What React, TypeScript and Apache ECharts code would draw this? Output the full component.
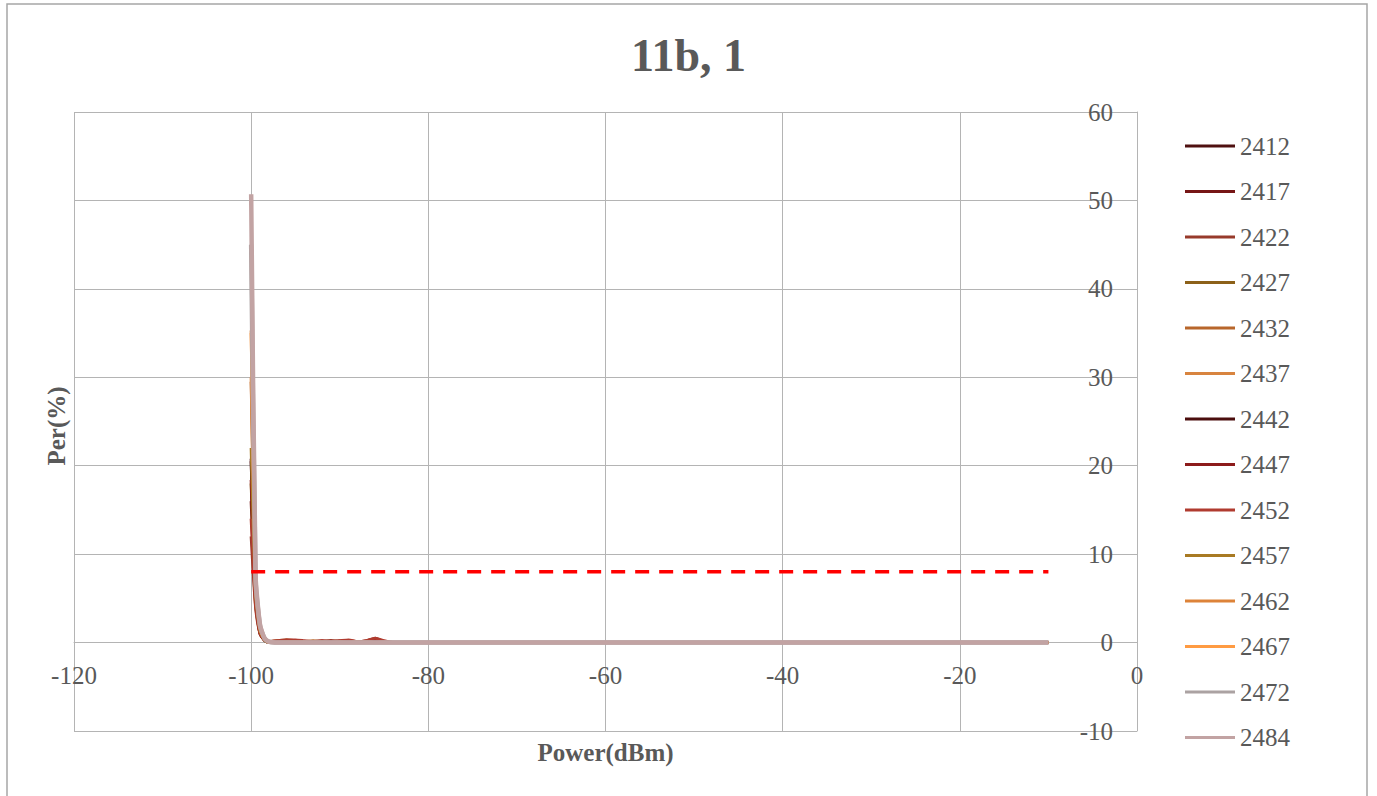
import React, { useEffect, useRef } from "react";
import * as echarts from "echarts";

const seriesNames = ["2412", "2417", "2422", "2427", "2432", "2437", "2442", "2447", "2452", "2457", "2462", "2467", "2472", "2484"];
const seriesColors = ["#4f1010", "#761616", "#973a2b", "#8c6119", "#b8662b", "#d8843f", "#4b0d0d", "#8c1b1b", "#b03b2f", "#a87a23", "#dd8339", "#ff9b42", "#aba2a2", "#c2a3a3"];

const powerX = [-100, -99.5, -99, -98.5, -98, -97, -96, -95, -94, -93, -92, -91, -90, -89, -88, -87, -86, -85, -84, -10];

const per2412 = [20.8, 5.5, 1.2, 0.3, 0, 0, 0.1, 0, 0.1, 0, 0.1, 0, 0, 0.1, 0, 0, 0, 0, 0, 0];
const per2417 = [16.0, 4.5, 1.0, 0.3, 0, 0.1, 0.2, 0.1, 0, 0.1, 0, 0.1, 0, 0, 0.1, 0, 0.1, 0, 0, 0];
const per2422 = [12.0, 4.0, 1.0, 0.3, 0.1, 0.2, 0.3, 0.2, 0.1, 0.1, 0.2, 0.1, 0.2, 0.1, 0.1, 0.2, 0.5, 0.1, 0, 0];
const per2427 = [18.0, 5.0, 1.2, 0.3, 0, 0, 0.1, 0, 0, 0.1, 0, 0, 0.1, 0, 0, 0, 0, 0, 0, 0];
const per2432 = [29.5, 6.0, 1.5, 0.4, 0.1, 0.2, 0.3, 0.2, 0.1, 0.2, 0.1, 0.2, 0.1, 0.2, 0.1, 0.1, 0.2, 0.1, 0, 0];
const per2437 = [35.3, 6.5, 1.7, 0.4, 0, 0, 0.1, 0, 0.1, 0, 0, 0.1, 0, 0, 0.1, 0, 0, 0, 0, 0];
const per2442 = [20.5, 5.5, 1.2, 0.3, 0, 0.1, 0, 0.1, 0, 0, 0.1, 0, 0, 0.1, 0, 0, 0, 0, 0, 0];
const per2447 = [18.4, 5.0, 1.1, 0.3, 0.1, 0.1, 0.2, 0.1, 0.1, 0, 0.1, 0.2, 0.1, 0, 0.1, 0.1, 0.3, 0.1, 0, 0];
const per2452 = [14.0, 4.2, 1.0, 0.3, 0.1, 0.2, 0.3, 0.3, 0.2, 0.1, 0.2, 0.1, 0.2, 0.3, 0.1, 0.2, 0.5, 0.2, 0, 0];
const per2457 = [22.0, 5.5, 1.3, 0.3, 0, 0, 0.1, 0, 0, 0, 0.1, 0, 0, 0, 0, 0, 0, 0, 0, 0];
const per2462 = [30.0, 6.0, 1.5, 0.4, 0.1, 0, 0.1, 0.1, 0, 0.1, 0, 0, 0.1, 0, 0, 0.1, 0, 0, 0, 0];
const per2467 = [35.0, 6.5, 1.7, 0.4, 0, 0, 0, 0, 0.1, 0, 0, 0, 0, 0, 0.1, 0, 0, 0, 0, 0];
const per2472 = [45.0, 7.0, 1.9, 0.5, 0.1, 0, 0, 0, 0, 0, 0, 0, 0, 0, 0, 0, 0, 0, 0, 0];
const per2484 = [50.7, 7.5, 2.0, 0.5, 0.1, 0, 0, 0, 0, 0, 0, 0, 0, 0, 0, 0, 0, 0, 0, 0];

const seriesValues = [per2412, per2417, per2422, per2427, per2432, per2437, per2442, per2447, per2452, per2457, per2462, per2467, per2472, per2484];

const limitX = [-100, -10];
const limitY = [8, 8];

const xTicks = { min: -120, max: 0, interval: 20 };
const yTicks = { min: -10, max: 60, interval: 10 };

const SERIF = "'Liberation Serif', 'Times New Roman', serif";
const TEXT = "#595959";
const GRID = "#b4b4b4";

export default function App() {
  const ref = useRef<HTMLDivElement>(null);
  useEffect(() => {
    if (!ref.current) return;
    const chart = echarts.init(ref.current, undefined, { renderer: "svg" });
    const lines = seriesNames.map((name, i) => ({
      name,
      type: "line",
      data: powerX.map((x, j) => [x, seriesValues[i][j]]),
      symbol: "none",
      smooth: 0.2,
      lineStyle: { color: seriesColors[i], width: i >= 12 ? 4.5 : 3 },
      itemStyle: { color: seriesColors[i] },
      z: 3 + i,
    }));
    chart.setOption({
      animation: false,
      backgroundColor: "#ffffff",
      title: {
        text: "11b, 1",
        left: "center",
        top: 27,
        textStyle: { fontFamily: SERIF, fontSize: 46, fontWeight: "bold", color: TEXT },
      },
      grid: { left: 74, right: 240, top: 112, bottom: 65, outerBoundsMode: "none", containLabel: false },
      legend: {
        data: seriesNames,
        orient: "vertical",
        left: 1180,
        top: 128,
        itemWidth: 50,
        itemHeight: 3,
        itemGap: 19.5,
        icon: "rect",
        textStyle: { fontFamily: SERIF, fontSize: 25, color: TEXT, lineHeight: 26 },
      },
      xAxis: {
        type: "value",
        min: xTicks.min,
        max: xTicks.max,
        interval: xTicks.interval,
        offset: -88.4,
        name: "Power(dBm)",
        nameLocation: "middle",
        nameGap: 97,
        nameTextStyle: { fontFamily: SERIF, fontSize: 25, fontWeight: "bold", color: TEXT },
        axisLine: { show: true, onZero: false, lineStyle: { color: GRID } },
        axisTick: { show: false },
        axisLabel: { fontFamily: SERIF, fontSize: 25, color: TEXT, margin: 20 },
        splitLine: { show: true, lineStyle: { color: GRID, width: 1 } },
      },
      yAxis: {
        type: "value",
        position: "right",
        min: yTicks.min,
        max: yTicks.max,
        interval: yTicks.interval,
        axisLine: { show: true, onZero: false, lineStyle: { color: GRID } },
        axisTick: { show: false },
        axisLabel: { inside: true, fontFamily: SERIF, fontSize: 25, color: TEXT, margin: 24 },
        splitLine: { show: true, lineStyle: { color: GRID, width: 1 } },
      },
      graphic: [
        {
          type: "rect",
          shape: { x: 7, y: 4, width: 1360, height: 820 },
          style: { fill: "none", stroke: "#a6a6a6", lineWidth: 1.5 },
          silent: true,
        },
        {
          type: "text",
          x: 56,
          y: 426,
          rotation: Math.PI / 2,
          style: {
            text: "Per(%)",
            fontFamily: SERIF,
            fontSize: 25,
            fontWeight: "bold",
            fill: TEXT,
            align: "center",
            verticalAlign: "middle",
          },
        },
      ],
      series: [
        ...lines,
        {
          name: "limit",
          type: "line",
          data: limitX.map((x, j) => [x, limitY[j]]),
          symbol: "none",
          lineStyle: { color: "#ff0000", width: 3.5, type: [14, 10] },
          z: 20,
        },
      ],
    });
    return () => chart.dispose();
  }, []);
  return <div ref={ref} style={{ position: "fixed", left: 0, top: 0, width: 1377, height: 796 }} />;
}
